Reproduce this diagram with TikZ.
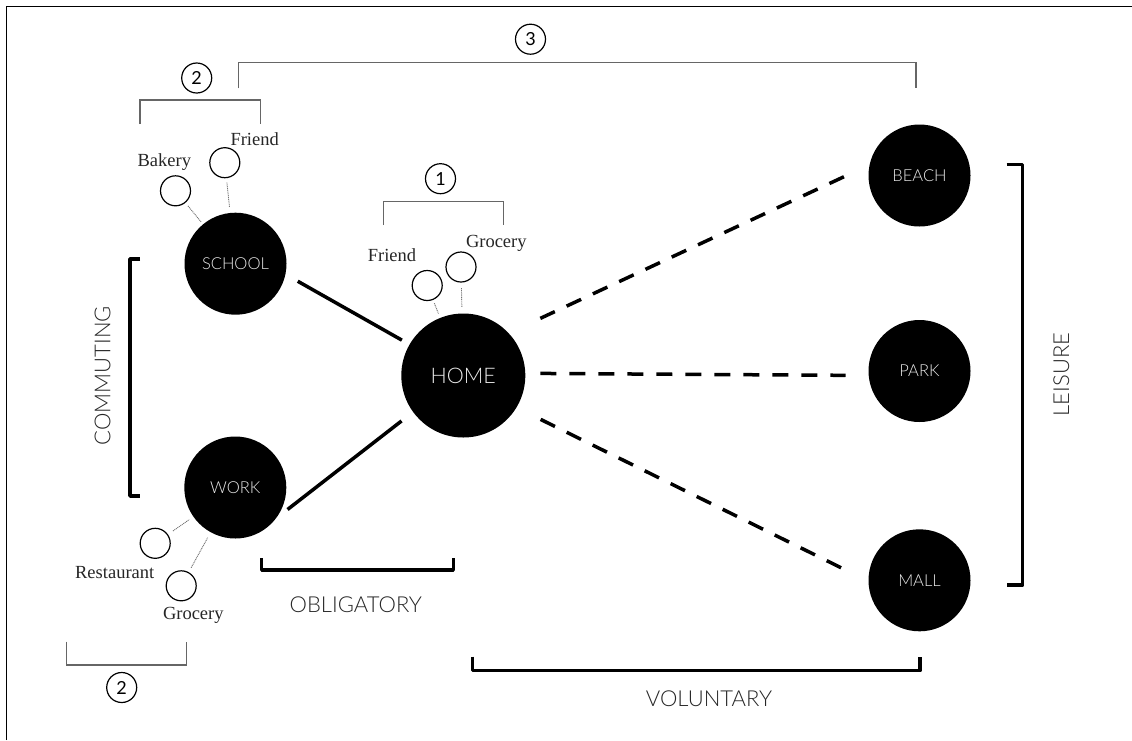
\documentclass[tikz,border=0pt]{standalone}
\usepackage{fontspec}
\setmainfont{Liberation Serif}
\newfontfamily\labfont{Lato Light}
\newfontfamily\numfont{Lato}
\begin{document}
\begin{tikzpicture}[x=1pt,y=-1pt,
  mainplace/.style={circle,fill=black,draw=none,inner sep=0pt,minimum size=102pt,
    text=white!92!black,font=\labfont\fontsize{16.5}{16.5}\selectfont},
  minor/.style={circle,draw=black,line width=1.2pt,inner sep=0pt,minimum size=30pt},
  numcirc/.style={circle,draw=black,line width=1.2pt,inner sep=0pt,minimum size=30pt,
    font=\numfont\fontsize{18}{18}\selectfont},
  serifl/.style={font=\fontsize{18.5}{18.5}\selectfont,text=black!85,anchor=base,inner sep=0pt},
  catl/.style={font=\labfont\fontsize{22}{22}\selectfont,text=black!85,inner sep=0pt},
  trip/.style={line width=3.5pt},
  leisuretrip/.style={line width=3.5pt,dash pattern=on 16pt off 13pt},
  linkl/.style={draw=black!55,line width=0.9pt,dash pattern=on 1pt off 0.8pt},
  thinbr/.style={draw=black!60,line width=1.3pt},
  thickbr/.style={draw=black,line width=3.5pt,line join=round}
]
\useasboundingbox (0,0) rectangle (1132,740);
% frame
\draw[line width=1.8pt] (6.5,740) -- (6.5,6.5) -- (1132,6.5);

% main places
\node[mainplace,minimum size=124pt,font=\labfont\fontsize{21.5}{21.5}\selectfont] (home) at (463.3,375.5) {HOME};
\node[mainplace] (school) at (235.5,263.7) {SCHOOL};
\node[mainplace] (work) at (235.3,487.5) {WORK};
\node[mainplace] (beach) at (919.5,175.5) {BEACH};
\node[mainplace] (park) at (919.5,371) {PARK};
\node[mainplace] (mall) at (919.5,580.3) {MALL};

% minor stops
\node[minor] (bakery) at (175.5,190.8) {};
\node[minor] (sfriend) at (224.8,162.7) {};
\node[minor] (hfriend) at (427.2,285.5) {};
\node[minor] (hgrocery) at (461,267) {};
\node[minor] (restaurant) at (155.2,543.3) {};
\node[minor] (wgrocery) at (181.2,585.8) {};

% minor labels
\node[serifl] (lbakery) at (164.3,166.5) {Bakery};
\node[serifl] (lsfriend) at (254.7,145) {Friend};
\node[serifl] (lhfriend) at (392,261.5) {Friend};
\node[serifl] (lhgrocery) at (496.3,247) {Grocery};
\node[serifl] (lrestaurant) at (114.7,578.3) {Restaurant};
\node[serifl] (lwgrocery) at (193.3,619.5) {Grocery};

% dotted links
\draw[linkl,shorten <=4pt,shorten >=3pt] (bakery) -- (school);
\draw[linkl,shorten <=4.5pt,shorten >=5.5pt] (sfriend) -- (school);
\draw[linkl,shorten <=3.5pt,shorten >=4.5pt] (hfriend) -- (home);
\draw[linkl,shorten <=5.5pt,shorten >=6.5pt] (hgrocery) -- (home);
\draw[linkl,shorten <=6pt,shorten >=5pt] (restaurant) -- (work);
\draw[linkl,shorten <=5pt,shorten >=6pt] (wgrocery) -- (work);

% obligatory trips
\draw[trip,shorten <=14pt,shorten >=8.7pt] (school.-12.6) -- (home.150);
\draw[trip,shorten <=14.4pt,shorten >=14.5pt] (work.-37.2) -- (home.216.4);

% leisure trips
\draw[leisuretrip,shorten <=34.8pt,shorten >=26pt] (home.43.7) -- (beach.168.6);
\draw[leisuretrip,shorten <=15pt,shorten >=23pt] (home.2.8) -- (park.185.6);
\draw[leisuretrip,shorten <=26.8pt,shorten >=23.4pt] (home.-31.3) -- (mall.181.5);

% numbered circles
\node[numcirc] (n2top) at (196.7,78) {2};
\node[numcirc] (n3) at (530.5,39.2) {3};
\node[numcirc] (n1) at (440.5,178.7) {1};
\node[numcirc] (n2bot) at (121.7,687.5) {2};

% thin brackets
\draw[thinbr] (140,124) -- (140,100) -- (260.3,100) -- (260.3,124);
\draw[thinbr] (238.7,88.3) -- (238.7,62.3) -- (916,62.3) -- (916,88.3);
\draw[thinbr] (383.3,225) -- (383.3,201.7) -- (503.3,201.7) -- (503.3,225);
\draw[thinbr] (66.7,641.7) -- (66.7,665) -- (186.7,665) -- (186.7,641.7);

% thick brackets
\draw[thickbr] (140,259) -- (130,259) -- (130,496) -- (140,496);
\draw[thickbr] (261.7,558.3) -- (261.7,570) -- (453.3,570) -- (453.3,558.3);
\draw[thickbr] (472.7,656.7) -- (472.7,670.7) -- (920,670.7) -- (920,656.7);
\draw[thickbr] (1006.7,164.3) -- (1022.7,164.3) -- (1022.7,585) -- (1006.7,585);

% category labels
\node[catl,rotate=90] (lcomm) at (102.5,375.5) {COMMUTING};
\node[catl,anchor=base] (loblig) at (355.8,612.3) {OBLIGATORY};
\node[catl,anchor=base] (lvol) at (709,706) {VOLUNTARY};
\node[catl,rotate=90] (lleis) at (1061.3,374.5) {LEISURE};
\end{tikzpicture}
\end{document}
